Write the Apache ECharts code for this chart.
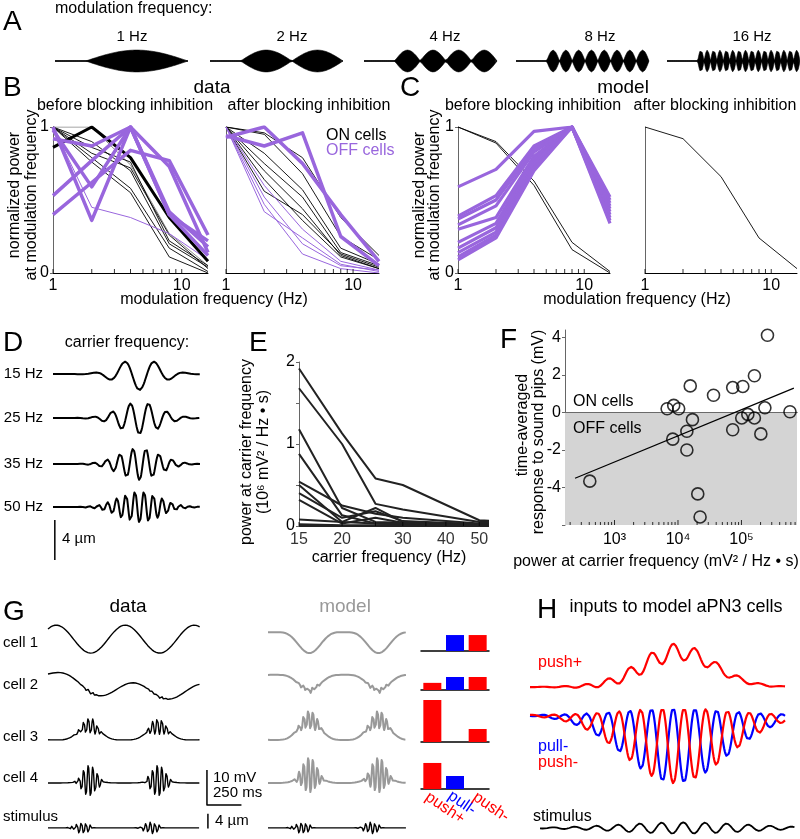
<!DOCTYPE html>
<html>
<head>
<meta charset="utf-8">
<title>modulation and carrier frequency tuning</title>
<script src="https://cdn.jsdelivr.net/npm/echarts@6.0.0/dist/echarts.min.js"></script>
<style>
  html, body { margin: 0; padding: 0; background: #fff; }
  #chart { width: 800px; height: 839px; }
</style>
</head>
<body>
<div id="chart"></div>
<script>
// ---------------- data ----------------
// A: modulation frequencies of the stimulus (Hz)
const aModFreqs = [1, 2, 4, 8, 16];

// B, C: normalized power at each modulation frequency
const modFreqs = [1, 2, 4, 8, 16];
const bBeforeGray = [1.0, 1.0, 0.74, 0.27, 0.05];
const bBeforeOnThick = [0.86, 1.0, 0.79, 0.38, 0.08];
const bBeforeOnThin = [
  [1.0, 0.82, 0.72, 0.26, 0.03],
  [1.0, 0.86, 0.76, 0.22, 0.05],
  [1.0, 0.79, 0.58, 0.17, 0.01],
  [1.0, 0.76, 0.55, 0.11, 0.0],
  [1.0, 0.90, 0.70, 0.20, 0.04]
];
const bBeforeOffThin = [[1.0, 0.45, 0.38, 0.27, 0.09]];
const bBeforeOffThick = [
  [1.0, 0.36, 1.0, 0.42, 0.18],
  [0.53, 0.77, 1.0, 0.40, 0.22],
  [0.40, 0.62, 0.84, 0.77, 0.26],
  [0.92, 0.87, 1.0, 0.73, 0.14],
  [0.98, 0.59, 1.0, 0.40, 0.12]
];
const bAfterOnThin = [
  [1.0, 0.96, 0.79, 0.38, 0.12],
  [1.0, 0.95, 0.68, 0.25, 0.09],
  [1.0, 0.82, 0.57, 0.17, 0.06],
  [1.0, 0.75, 0.52, 0.14, 0.05],
  [1.0, 0.70, 0.44, 0.12, 0.03],
  [1.0, 0.64, 0.36, 0.11, 0.03],
  [1.0, 0.56, 0.40, 0.13, 0.04]
];
const bAfterOffThin = [
  [1.0, 0.42, 0.24, 0.06, 0.01],
  [1.0, 0.47, 0.13, 0.03, 0.0],
  [1.0, 0.60, 0.30, 0.08, 0.02],
  [1.0, 0.52, 0.20, 0.05, 0.02]
];
const bAfterOffThick = [
  [0.93, 1.0, 0.75, 0.40, 0.08],
  [0.94, 0.87, 0.96, 0.25, 0.05]
];
const cBeforeOn = [
  [1.0, 0.90, 0.63, 0.21, 0.01],
  [1.0, 0.89, 0.60, 0.16, 0.0]
];
const cBeforeOff = [
  [0.59, 0.71, 0.97, 1.0, 0.52],
  [0.39, 0.53, 0.87, 1.0, 0.50],
  [0.37, 0.50, 0.85, 1.0, 0.48],
  [0.33, 0.46, 0.83, 1.0, 0.46],
  [0.30, 0.38, 0.80, 1.0, 0.44],
  [0.21, 0.34, 0.78, 1.0, 0.42],
  [0.17, 0.31, 0.76, 1.0, 0.40],
  [0.14, 0.28, 0.74, 1.0, 0.38],
  [0.11, 0.26, 0.72, 1.0, 0.36],
  [0.09, 0.24, 0.70, 1.0, 0.34]
];
const cAfterOn = [1.0, 0.92, 0.66, 0.24, 0.03];

// D: carrier frequencies (Hz), amplitude (µm), gaussian width (s)
const dCarriers = [15, 25, 35, 50];
const dAmplitude = 1.6;
const dSigma = 0.045;

// E: power at carrier frequency (10^6 mV^2/Hz s)
const eFreqs = [15, 20, 25, 30, 50, 55];
const ePower = [
  [1.92, 1.13, 0.58, 0.50, 0.07, 0.06],
  [1.68, 1.00, 0.27, 0.20, 0.05, 0.05],
  [1.18, 0.22, 0.05, 0.04, 0.02, 0.02],
  [0.88, 0.13, 0.03, 0.02, 0.01, 0.01],
  [0.54, 0.25, 0.15, 0.10, 0.03, 0.03],
  [0.50, 0.05, 0.22, 0.05, 0.02, 0.02],
  [0.40, 0.10, 0.18, 0.06, 0.02, 0.02],
  [0.32, 0.03, 0.10, 0.04, 0.01, 0.01],
  [0.08, 0.05, 0.03, 0.02, 0.01, 0.01],
  [0.02, 0.01, 0.01, 0.01, 0.0, 0.0],
  [0.0, 0.0, 0.0, 0.0, 0.0, 0.0]
];
const eTicks = [15, 20, 25, 30, 35, 40, 45, 50];
const eTickLabels = [15, 20, 30, 40, 50];

// F: power at carrier (mV^2/Hz s) vs time-averaged response (mV)
const fPower = [408, 6750, 8570, 10250, 8270, 13800, 13800, 15600, 16900, 20500, 22300,
  36300, 72800, 72800, 105000, 101000, 126000, 160000, 160000, 202000, 234000, 581000, 257000];
const fResponse = [-3.66, 0.2, 0.38, 0.2, -1.42, -1.0, -2.0, 1.42, -0.38, -4.34, -5.57,
  0.92, -0.92, 1.33, 1.39, -0.29, -0.1, 1.96, -0.29, -1.14, 0.25, 0.04, 4.12];
const fFitPower = [239, 670000];
const fFitResponse = [-3.51, 1.30];

// G: responses to a 2 Hz modulated stimulus
const gCells = ['cell 1', 'cell 2', 'cell 3', 'cell 4'];
const gCarrier = 30;          // Hz
const gStimAmp = 1.6;         // µm
const gLag = 0.05;            // s
const gDataSlowAmp = [4.0, 2.2, 0, 0];      // mV
const gDataSlowPeak = [0.56, 0.62, 0, 0];   // s
const gDataDrift = [0, 5, 0, 0];            // mV
const gDataDepol = [0, 0, 4.0, 0.6];        // mV
const gDataOsc = [0, 0.4, 2.4, 4.6];        // mV
const gModelSlow = [-6.0, -4.3, 5.7, 2.3];  // mV
const gModelOsc = [0, 0.9, 2.9, 5.1];       // mV
const gBarNames = ['push+', 'pull-', 'push-'];
const gBarWeights = [
  [0, 0.38, 0.38],
  [0.17, 0.31, 0.31],
  [1.0, 0, 0.31],
  [0.62, 0.31, 0]
];

// H: inputs to model cells
const hCarrier = 25;      // Hz
const hCenter = 0.264;    // s
const hStimSigma = 0.118;
const hPushDcSigma = 0.065;
const hPushOscSigma = 0.085;
const hPushDc = 1.0;
const hPushOsc = 0.25;
const hPullSigma = 0.094;
const hPullMean = -0.45;
const hPullOsc = 0.55;

// ---------------- styles / helpers ----------------
const FONT = '"Liberation Sans", Arial, sans-serif';
const PURPLE = '#9966dd';
const RED = '#ff0000';
const BLUE = '#0000ff';
const GRAY = '#999999';

const grids = [], xAxes = [], yAxes = [], series = [], texts = [];

function panel(grid, xa, ya) {
  grids.push(grid);
  const i = grids.length - 1;
  xAxes.push(Object.assign({ gridIndex: i }, xa));
  yAxes.push(Object.assign({ gridIndex: i }, ya));
  return i;
}
const hidden = (min, max) => ({ type: 'value', min, max, show: false });

function line(idx, data, color, width, extra) {
  series.push(Object.assign({
    type: 'line', xAxisIndex: idx, yAxisIndex: idx, data,
    symbol: 'none', showSymbol: false, silent: true,
    lineStyle: { color, width, join: 'round' }
  }, extra || {}));
}

function ticks(idx, values, y, len) {
  series.push({
    type: 'scatter', xAxisIndex: idx, yAxisIndex: idx, silent: true, clip: false, z: 4,
    data: values.map(v => [v, y]), symbol: 'rect', symbolSize: [1, len],
    symbolOffset: [0, -len / 2], itemStyle: { color: '#000' }
  });
}

function label(x, y, text, o) {
  o = o || {};
  texts.push({
    type: 'text', x, y, rotation: o.rot || 0, silent: true, z: 100,
    style: {
      text, fontFamily: FONT, fontSize: o.size || 16, fill: o.color || '#000',
      align: o.align || 'left', verticalAlign: 'middle'
    }
  });
}

function sampled(t0, t1, n, fn) {
  const out = [];
  for (let i = 0; i <= n; i++) {
    const t = t0 + (t1 - t0) * i / n;
    out.push([t, fn(t)]);
  }
  return out;
}

// ---------------- A ----------------
const aLefts = [55, 210, 364, 516, 667];
const aLabelX = [132, 292, 445, 600, 752];
aModFreqs.forEach((f, k) => {
  const idx = panel({ left: aLefts[k], top: 49, width: 133, height: 24 }, hidden(-0.3, 1.0), hidden(-1.1, 1.1));
  const env = t => (t < 0 ? 0 : Math.abs(Math.sin(Math.PI * f * t)));
  const area = { areaStyle: { color: '#000', opacity: 1 } };
  line(idx, sampled(-0.3, 1.0, 1300, env), '#000', 0.6, area);
  line(idx, sampled(-0.3, 1.0, 1300, t => -env(t)), '#000', 0.6, area);
  line(idx, [[-0.3, 0], [1.0, 0]], '#000', 1.5);
  label(aLabelX[k], 37, f + ' Hz', { align: 'center', size: 15 });
});
label(3, 22, 'A', { size: 28 });
label(55, 9, 'modulation frequency:', { size: 16 });

// ---------------- B / C ----------------
function modPanel(left, width, showY) {
  return panel({ left, top: 127, width, height: 146 },
    {
      type: 'log', logBase: 10, min: 1, max: 16,
      axisLine: { show: true, lineStyle: { color: '#000', width: 1 } },
      axisTick: { show: false }, splitLine: { show: false },
      axisLabel: {
        fontSize: 16, color: '#000', fontFamily: FONT, margin: 5,
        formatter: v => (Math.abs(v - 1) < 1e-6 ? '1' : Math.abs(v - 10) < 1e-6 ? '10' : '')
      }
    },
    {
      type: 'value', min: 0, max: 1, interval: 1,
      axisLine: { show: true, lineStyle: { color: '#666', width: 1 } },
      axisTick: { show: showY, length: 3, lineStyle: { color: '#666' } },
      axisLabel: { show: showY, fontSize: 16, color: '#000', fontFamily: FONT, margin: 4 },
      splitLine: { show: false }
    });
}
const modTicks = [1, 2, 3, 4, 5, 6, 7, 8, 9, 10];
const pts = vals => modFreqs.map((f, i) => [f, vals[i]]);

const bL = modPanel(53, 155, true);
line(bL, pts(bBeforeGray), '#888', 1);
bBeforeOnThin.forEach(v => line(bL, pts(v), '#000', 0.9));
bBeforeOffThin.forEach(v => line(bL, pts(v), PURPLE, 1));
line(bL, pts(bBeforeOnThick), '#000', 3);
bBeforeOffThick.forEach(v => line(bL, pts(v), PURPLE, 3.5));
ticks(bL, modTicks, 0, 4);

const bR = modPanel(226, 153, false);
bAfterOnThin.forEach(v => line(bR, pts(v), '#000', 0.9));
bAfterOffThin.forEach(v => line(bR, pts(v), PURPLE, 1));
bAfterOffThick.forEach(v => line(bR, pts(v), PURPLE, 3.5));
ticks(bR, modTicks, 0, 4);

const cL = modPanel(458, 152, true);
cBeforeOn.forEach(v => line(cL, pts(v), '#000', 0.9));
cBeforeOff.forEach(v => line(cL, pts(v), PURPLE, 3.2));
ticks(cL, modTicks, 0, 4);

const cR = modPanel(645, 152, false);
line(cR, pts(cAfterOn), '#000', 0.9);
ticks(cR, modTicks, 0, 4);

label(3, 88, 'B', { size: 28 });
label(212, 88, 'data', { align: 'center', size: 19 });
label(125, 106, 'before blocking inhibition', { align: 'center' });
label(309, 106, 'after blocking inhibition', { align: 'center' });
label(326, 136, 'ON cells');
label(326, 151, 'OFF cells', { color: PURPLE });
label(15, 195, 'normalized power', { align: 'center', rot: Math.PI / 2 });
label(32, 195, 'at modulation frequency', { align: 'center', rot: Math.PI / 2 });
label(214, 300, 'modulation frequency (Hz)', { align: 'center' });

label(400, 88, 'C', { size: 28 });
label(623, 88, 'model', { align: 'center', size: 19 });
label(533, 106, 'before blocking inhibition', { align: 'center' });
label(715, 106, 'after blocking inhibition', { align: 'center' });
label(420, 195, 'normalized power', { align: 'center', rot: Math.PI / 2 });
label(435, 195, 'at modulation frequency', { align: 'center', rot: Math.PI / 2 });
label(637, 300, 'modulation frequency (Hz)', { align: 'center' });

// ---------------- D ----------------
const dRowOffset = [-2.4, -6.8, -11.4, -15.7];
const dRowY = [374, 418, 464, 507];
const dIdx = panel({ left: 53, top: 350, width: 147, height: 215 }, hidden(-0.19, 0.133), hidden(-21.5, 0));
dCarriers.forEach((f, k) => {
  line(dIdx, sampled(-0.19, 0.133, 650, t =>
    dRowOffset[k] - dAmplitude * Math.cos(2 * Math.PI * f * t) * Math.exp(-t * t / (2 * dSigma * dSigma))),
    '#000', 2);
  label(43, dRowY[k], f + ' Hz', { align: 'right', size: 15 });
});
line(dIdx, [[-0.186, -17], [-0.186, -21]], '#000', 1.5, { clip: false });
label(62, 539, '4 µm', { size: 15 });
label(3, 343, 'D', { size: 28 });
label(127, 343, 'carrier frequency:', { align: 'center' });

// ---------------- E ----------------
const eIdx = panel({ left: 299, top: 362, width: 189, height: 164 },
  {
    type: 'log', logBase: 10, min: 15, max: 53,
    axisLine: { show: true, lineStyle: { color: '#000' } },
    axisTick: { show: false }, axisLabel: { show: false }, splitLine: { show: false }
  },
  {
    type: 'value', min: 0, max: 2, interval: 0.5,
    axisLine: { show: true, lineStyle: { color: '#666' } },
    axisTick: { show: true, length: 3, lineStyle: { color: '#666' } },
    axisLabel: { fontSize: 16, color: '#000', fontFamily: FONT, margin: 4,
      formatter: v => (Number.isInteger(v) ? String(v) : '') },
    splitLine: { show: false }
  });
ePower.forEach(v => line(eIdx, eFreqs.map((f, i) => [f, v[i]]), '#222', 2));
ticks(eIdx, eTicks, 0, 4);
series.push({
  type: 'scatter', xAxisIndex: eIdx, yAxisIndex: eIdx, silent: true, clip: false,
  data: eTickLabels.map(v => [v, 0]), symbolSize: 0,
  label: { show: true, position: 'bottom', distance: 6, fontSize: 16, color: '#000', fontFamily: FONT,
    formatter: p => String(p.value[0]) }
});
label(249, 343, 'E', { size: 28 });
label(247, 452, 'power at carrier frequency', { align: 'center', rot: Math.PI / 2 });
label(264, 452, '(10⁶ mV² / Hz • s)', { align: 'center', rot: Math.PI / 2 });
label(389, 558, 'carrier frequency (Hz)', { align: 'center' });

// ---------------- F ----------------
const sup = { 3: '³', 4: '⁴', 5: '⁵' };
const fIdx = panel({ left: 565, top: 330, width: 235, height: 195 },
  {
    type: 'log', logBase: 10, min: 166, max: 750000,
    axisLine: { show: true, lineStyle: { color: '#000' } },
    axisTick: { show: false }, splitLine: { show: false },
    axisLabel: { fontSize: 16, color: '#000', fontFamily: FONT, margin: 7,
      formatter: v => {
        const e = Math.log10(v);
        return Math.abs(e - Math.round(e)) < 1e-6 && sup[Math.round(e)] ? '10' + sup[Math.round(e)] : '';
      } }
  },
  {
    type: 'value', min: -6, max: 4.4, interval: 2,
    axisLine: { show: true, lineStyle: { color: '#666' } },
    axisTick: { show: true, length: 3, lineStyle: { color: '#666' } },
    axisLabel: { fontSize: 16, color: '#000', fontFamily: FONT, margin: 4, showMaxLabel: false,
      formatter: v => (v === -6 ? '' : String(v)) },
    splitLine: { show: false }
  });
series.push({
  type: 'scatter', xAxisIndex: fIdx, yAxisIndex: fIdx, silent: true, z: 3,
  data: fPower.map((p, i) => [p, fResponse[i]]),
  symbol: 'circle', symbolSize: 12,
  itemStyle: { color: 'rgba(0,0,0,0)', borderColor: '#000', borderWidth: 1.6 },
  markArea: { silent: true, itemStyle: { color: '#d4d4d4' }, data: [[{ yAxis: 0 }, { yAxis: -6 }]] }
});
line(fIdx, fFitPower.map((p, i) => [p, fFitResponse[i]]), '#000', 1.2);
const fMinor = [], fMajor = [1e3, 1e4, 1e5];
[100, 1000, 10000, 100000].forEach(d => { for (let m = 2; m <= 9; m++) if (d * m > 166 && d * m < 750000) fMinor.push(d * m); });
ticks(fIdx, fMinor, -6, 3);
ticks(fIdx, fMajor, -6, 5);
label(500, 340, 'F', { size: 28 });
label(523, 425, 'time-averaged', { align: 'center', rot: Math.PI / 2 });
label(539, 432, 'response to sound pips (mV)', { align: 'center', rot: Math.PI / 2 });
label(573, 402, 'ON cells');
label(573, 429, 'OFF cells');
label(656, 562, 'power at carrier frequency (mV² / Hz • s)', { align: 'center' });

// ---------------- G ----------------
const stimEnvG = t => Math.pow(Math.max(0, Math.cos(4 * Math.PI * (t - 0.25))), 2);
const slowEnvG = t => Math.pow((1 + Math.cos(4 * Math.PI * (t - 0.25))) / 2, 2);
const carrierG = t => Math.sin(2 * Math.PI * gCarrier * t);
const gDataOffset = [-6.9, -22, -35.7, -48];
const gModelOffset = [-4.9, -17.1, -35.7, -48];
const gRowY = [643, 685, 737, 778];

const gD = panel({ left: 48, top: 615, width: 202, height: 190 }, hidden(0, 1.464), hidden(-54.3, 0));
const gDs = panel({ left: 48, top: 813, width: 202, height: 26.25 }, hidden(0, 1.464), hidden(-3, 4));
const gM = panel({ left: 268, top: 615, width: 140, height: 190 }, hidden(0, 1.014), hidden(-54.3, 0));
const gMs = panel({ left: 268, top: 813, width: 140, height: 26.25 }, hidden(0, 1.014), hidden(-3, 4));

gCells.forEach((name, i) => {
  line(gD, sampled(0, 1.1, 1100, t => {
    const tl = t - gLag;
    return gDataOffset[i]
      + gDataSlowAmp[i] * Math.cos(4 * Math.PI * (t - gDataSlowPeak[i]))
      + gDataDrift[i] * Math.exp(-t / 0.25)
      + gDataDepol[i] * slowEnvG(tl)
      + gDataOsc[i] * stimEnvG(tl) * carrierG(tl);
  }), '#000', 1.4);
  line(gM, sampled(0, 1.0, 1000, t => {
    const tl = t - gLag;
    return gModelOffset[i] + gModelSlow[i] * slowEnvG(tl) + gModelOsc[i] * stimEnvG(tl) * carrierG(tl);
  }), GRAY, 2);
  label(3, gRowY[i], name, { size: 15 });
});
const gStim = t => gStimAmp * stimEnvG(t) * carrierG(t);
line(gDs, sampled(0, 1.1, 1100, gStim), '#000', 1.4);
line(gMs, sampled(0, 1.0, 1000, gStim), '#000', 1.4);
// scale bars: 10 mV, 250 ms, 4 µm
line(gD, [[1.152, -44.3], [1.152, -54.3], [1.402, -54.3]], '#000', 1.5, { clip: false });
line(gDs, [[1.159, -0.2], [1.159, 3.8]], '#000', 1.5, { clip: false });
label(213, 778, '10 mV', { size: 15 });
label(213, 793, '250 ms', { size: 15 });
label(215, 821, '4 µm', { size: 15 });
label(3, 817, 'stimulus', { size: 15 });
label(3, 612, 'G', { size: 28 });
label(128, 607, 'data', { align: 'center', size: 19 });
label(345, 607, 'model', { align: 'center', size: 19, color: GRAY });

// push/pull weights
const barTops = [609, 648, 700, 747];
gBarWeights.forEach((w, r) => {
  const idx = panel({ left: 421, top: barTops[r], width: 68, height: 42 },
    {
      type: 'category', data: gBarNames,
      axisLine: { show: true, lineStyle: { color: '#000', width: 1.5 } },
      axisTick: { show: false }, axisLabel: { show: false }
    },
    hidden(0, 1));
  series.push({
    type: 'bar', xAxisIndex: idx, yAxisIndex: idx, silent: true, barWidth: 18,
    data: w.map((v, i) => ({ value: v, itemStyle: { color: i === 1 ? BLUE : RED } }))
  });
});
const barLabelPos = [[445, 808, RED], [462, 803, BLUE], [491, 807, RED]];
gBarNames.forEach((n, i) => label(barLabelPos[i][0], barLabelPos[i][1], n,
  { align: 'center', color: barLabelPos[i][2], rot: -0.6, size: 16 }));

// ---------------- H ----------------
const gauss = (t, c, s) => Math.exp(-(t - c) * (t - c) / (2 * s * s));
const cosH = t => Math.cos(2 * Math.PI * hCarrier * (t - hCenter));
const hP = panel({ left: 530, top: 638, width: 255, height: 59.5 }, hidden(0, 0.47), hidden(-0.3, 1.4));
const hQ = panel({ left: 530, top: 701.3, width: 255, height: 85.4 }, hidden(0, 0.47), hidden(-1.05, 0.2));
const hS = panel({ left: 540, top: 819.5, width: 255, height: 17 }, hidden(0, 0.47), hidden(-1.5, 1.5));
line(hP, sampled(0, 0.47, 940, t =>
  hPushDc * gauss(t, hCenter + 0.01, hPushDcSigma) + hPushOsc * gauss(t, hCenter - 0.01, hPushOscSigma) * cosH(t)),
  RED, 2.2);
line(hQ, sampled(0, 0.47, 940, t => gauss(t, hCenter + 0.005, hPullSigma) * (hPullMean + hPullOsc * cosH(t))), BLUE, 2.2);
line(hQ, sampled(0, 0.47, 940, t => gauss(t, hCenter + 0.005, hPullSigma) * (hPullMean - hPullOsc * cosH(t))), RED, 2.2);
line(hS, sampled(0, 0.47, 940, t => gauss(t, hCenter, hStimSigma) * cosH(t)), '#000', 1.8);
label(537, 610, 'H', { size: 28 });
label(676, 607, 'inputs to model aPN3 cells', { align: 'center', size: 18 });
label(538, 663, 'push+', { color: RED });
label(538, 747, 'pull-', { color: BLUE });
label(538, 763, 'push-', { color: RED });
label(533, 817, 'stimulus');

// ---------------- chart ----------------
const chart = echarts.init(document.getElementById('chart'), null, { renderer: 'canvas' });
chart.setOption({
  animation: false,
  backgroundColor: '#fff',
  textStyle: { fontFamily: FONT },
  grid: grids,
  xAxis: xAxes,
  yAxis: yAxes,
  series: series,
  graphic: { elements: texts }
});
</script>
</body>
</html>
